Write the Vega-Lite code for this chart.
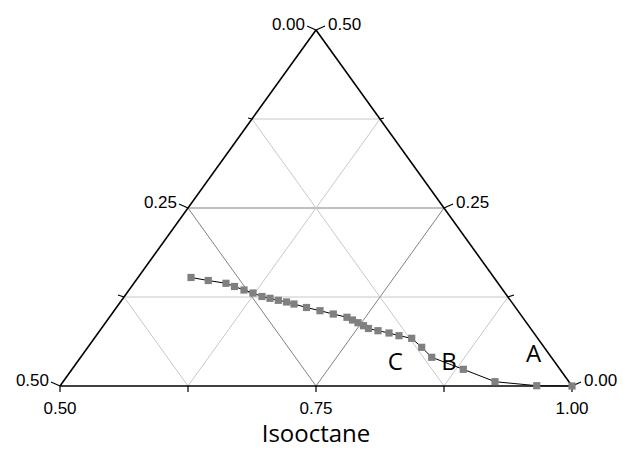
{
  "$schema": "https://vega.github.io/schema/vega-lite/v6.json",
  "width": 512,
  "height": 356,
  "autosize": {"type": "none"},
  "padding": {"left": 60, "top": 30, "right": 51, "bottom": 75},
  "background": "white",
  "config": {"view": {"stroke": null}},
  "datasets": {
    "grid": [
      {"x": 0.125, "y": 0.25, "x2": 0.875, "y2": 0.25, "k": "minor"},
      {"x": 0.25, "y": 0.5, "x2": 0.75, "y2": 0.5, "k": "major"},
      {"x": 0.375, "y": 0.75, "x2": 0.625, "y2": 0.75, "k": "minor"},
      {"x": 0.25, "y": 0, "x2": 0.625, "y2": 0.75, "k": "minor"},
      {"x": 0.5, "y": 0, "x2": 0.75, "y2": 0.5, "k": "major"},
      {"x": 0.75, "y": 0, "x2": 0.875, "y2": 0.25, "k": "minor"},
      {"x": 0.25, "y": 0, "x2": 0.125, "y2": 0.25, "k": "minor"},
      {"x": 0.5, "y": 0, "x2": 0.25, "y2": 0.5, "k": "major"},
      {"x": 0.75, "y": 0, "x2": 0.375, "y2": 0.75, "k": "minor"}
    ],
    "edges": [
      {"x": 0, "y": 0, "x2": 1, "y2": 0},
      {"x": 0, "y": 0, "x2": 0.5, "y2": 1},
      {"x": 1, "y": 0, "x2": 0.5, "y2": 1}
    ],
    "ticks": [
      {"x": 0, "y": 0, "x2": -0.0176, "y2": 0.0112},
      {"x": 0.125, "y": 0.25, "x2": 0.1133, "y2": 0.2556},
      {"x": 0.25, "y": 0.5, "x2": 0.2324, "y2": 0.5112},
      {"x": 0.375, "y": 0.75, "x2": 0.3672, "y2": 0.7528},
      {"x": 0.5, "y": 1, "x2": 0.4824, "y2": 1.0112},
      {"x": 1, "y": 0, "x2": 1.0176, "y2": 0.0112},
      {"x": 0.875, "y": 0.25, "x2": 0.8867, "y2": 0.2556},
      {"x": 0.75, "y": 0.5, "x2": 0.7676, "y2": 0.5112},
      {"x": 0.625, "y": 0.75, "x2": 0.6328, "y2": 0.7528},
      {"x": 0.5, "y": 1, "x2": 0.5176, "y2": 1.0112},
      {"x": 0, "y": 0, "x2": 0, "y2": -0.0169},
      {"x": 0.25, "y": 0, "x2": 0.25, "y2": -0.0169},
      {"x": 0.5, "y": 0, "x2": 0.5, "y2": -0.0169},
      {"x": 0.75, "y": 0, "x2": 0.75, "y2": -0.0169},
      {"x": 1, "y": 0, "x2": 1, "y2": -0.0169}
    ],
    "leftLabels": [
      {"x": -0.0176, "y": 0.0112, "t": "0.50"},
      {"x": 0.2324, "y": 0.5112, "t": "0.25"},
      {"x": 0.4824, "y": 1.0112, "t": "0.00"}
    ],
    "rightLabels": [
      {"x": 1.0176, "y": 0.0112, "t": "0.00"},
      {"x": 0.7676, "y": 0.5112, "t": "0.25"},
      {"x": 0.5176, "y": 1.0112, "t": "0.50"}
    ],
    "bottomLabels": [
      {"x": 0, "y": -0.0646, "t": "0.50"},
      {"x": 0.5, "y": -0.0646, "t": "0.75"},
      {"x": 1, "y": -0.0646, "t": "1.00"}
    ],
    "regions": [
      {"x": 0.9252, "y": 0.0879, "t": "A"},
      {"x": 0.7598, "y": 0.0646, "t": "B"},
      {"x": 0.6549, "y": 0.0637, "t": "C"}
    ],
    "title": [
      {"x": 0.5, "y": -0.138, "t": "Isooctane"}
    ],
    "points": [
      {"i": 1, "x": 0.2559, "y": 0.3048},
      {"i": 2, "x": 0.2896, "y": 0.2963},
      {"i": 3, "x": 0.3242, "y": 0.2885},
      {"i": 4, "x": 0.3408, "y": 0.2795},
      {"i": 5, "x": 0.3594, "y": 0.2697},
      {"i": 6, "x": 0.3770, "y": 0.2612},
      {"i": 7, "x": 0.3945, "y": 0.2514},
      {"i": 8, "x": 0.4102, "y": 0.2463},
      {"i": 9, "x": 0.4264, "y": 0.2407},
      {"i": 10, "x": 0.4424, "y": 0.2360},
      {"i": 11, "x": 0.4570, "y": 0.2303},
      {"i": 12, "x": 0.4814, "y": 0.2205},
      {"i": 13, "x": 0.5078, "y": 0.2115},
      {"i": 14, "x": 0.5338, "y": 0.2022},
      {"i": 15, "x": 0.5605, "y": 0.1930},
      {"i": 16, "x": 0.5713, "y": 0.1854},
      {"i": 17, "x": 0.5820, "y": 0.1778},
      {"i": 18, "x": 0.5928, "y": 0.1694},
      {"i": 19, "x": 0.6025, "y": 0.1615},
      {"i": 20, "x": 0.6211, "y": 0.1553},
      {"i": 21, "x": 0.6426, "y": 0.1489},
      {"i": 22, "x": 0.6621, "y": 0.1413},
      {"i": 23, "x": 0.6869, "y": 0.1340},
      {"i": 24, "x": 0.7064, "y": 0.1087},
      {"i": 25, "x": 0.7260, "y": 0.0806},
      {"i": 26, "x": 0.7877, "y": 0.0469},
      {"i": 27, "x": 0.8496, "y": 0.0121},
      {"i": 28, "x": 0.9311, "y": 0.0008},
      {"i": 29, "x": 1.0, "y": 0.0}
    ]
  },
  "encoding": {
    "x": {"field": "x", "type": "quantitative", "scale": {"domain": [0, 1], "nice": false, "zero": false}, "axis": null},
    "y": {"field": "y", "type": "quantitative", "scale": {"domain": [0, 1], "nice": false, "zero": false}, "axis": null}
  },
  "layer": [
    {
      "data": {"name": "grid"},
      "mark": {"type": "rule", "strokeWidth": 1},
      "encoding": {
        "x2": {"field": "x2"},
        "y2": {"field": "y2"},
        "color": {"field": "k", "type": "nominal", "scale": {"domain": ["minor", "major"], "range": ["#c8c8c8", "#808080"]}, "legend": null}
      }
    },
    {
      "data": {"name": "edges"},
      "mark": {"type": "rule", "strokeWidth": 1.6, "color": "black"},
      "encoding": {"x2": {"field": "x2"}, "y2": {"field": "y2"}}
    },
    {
      "data": {"name": "ticks"},
      "mark": {"type": "rule", "strokeWidth": 1.2, "color": "black"},
      "encoding": {"x2": {"field": "x2"}, "y2": {"field": "y2"}}
    },
    {
      "data": {"name": "points"},
      "mark": {"type": "line", "color": "black", "strokeWidth": 1},
      "encoding": {"order": {"field": "i", "type": "quantitative"}}
    },
    {
      "data": {"name": "points"},
      "mark": {"type": "point", "shape": "square", "filled": true, "size": 52, "color": "#808080", "opacity": 1},
      "encoding": {}
    },
    {
      "data": {"name": "leftLabels"},
      "mark": {"type": "text", "align": "right", "baseline": "middle", "dx": -2, "dy": -1, "font": "Liberation Sans", "fontSize": 17, "color": "black"},
      "encoding": {"text": {"field": "t"}}
    },
    {
      "data": {"name": "rightLabels"},
      "mark": {"type": "text", "align": "left", "baseline": "middle", "dx": 3, "dy": -1, "font": "Liberation Sans", "fontSize": 17, "color": "black"},
      "encoding": {"text": {"field": "t"}}
    },
    {
      "data": {"name": "bottomLabels"},
      "mark": {"type": "text", "align": "center", "baseline": "middle", "font": "Liberation Sans", "fontSize": 17, "color": "black"},
      "encoding": {"text": {"field": "t"}}
    },
    {
      "data": {"name": "regions"},
      "mark": {"type": "text", "align": "center", "baseline": "middle", "font": "Open Sans", "fontSize": 24, "color": "black"},
      "encoding": {"text": {"field": "t"}}
    },
    {
      "data": {"name": "title"},
      "mark": {"type": "text", "align": "center", "baseline": "middle", "font": "Open Sans", "fontSize": 24, "color": "black"},
      "encoding": {"text": {"field": "t"}}
    }
  ]
}
